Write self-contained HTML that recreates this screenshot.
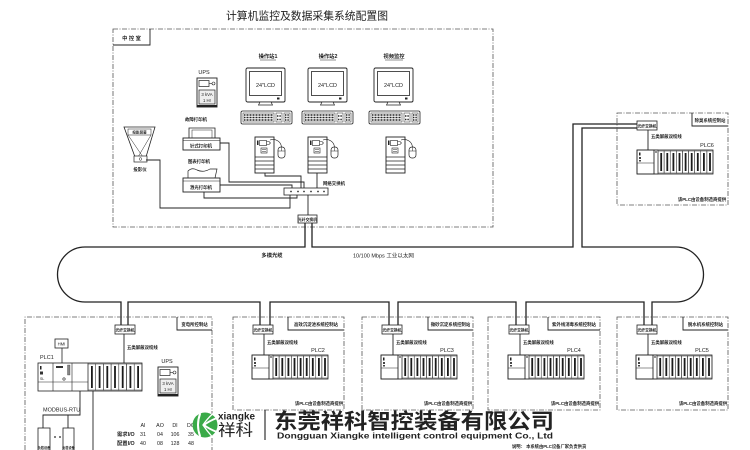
<!DOCTYPE html>
<html><head><meta charset="utf-8">
<style>
html,body{margin:0;padding:0;background:#fff;}
svg{display:block;}
text{font-family:"Liberation Sans","Noto Sans CJK SC",sans-serif;fill:#222;}
.dash{fill:none;stroke:#555;stroke-width:0.8;stroke-dasharray:5,1.5,1,1.5;}
.ln{fill:none;stroke:#222;stroke-width:0.9;}
.ring{fill:none;stroke:#222;stroke-width:1.3;}
.t4{font-size:4.4px;font-weight:bold;}
.t5{font-size:5.3px;font-weight:bold;}
.n5{font-size:5.5px;}
.m{text-anchor:middle;}
</style></head><body>
<svg width="750" height="450" viewBox="0 0 750 450" xmlns="http://www.w3.org/2000/svg">
<defs>
<g id="rack9">
<rect x="0" y="0" width="76" height="24" fill="#fff" stroke="#222" stroke-width="0.8"/>
<rect x="0" y="0" width="17" height="24" fill="none" stroke="#222" stroke-width="0.7"/>
<line x1="0" y1="13" x2="17" y2="13" stroke="#222" stroke-width="0.6"/>
<rect x="2" y="2.5" width="1.5" height="3" fill="#222"/>
<rect x="2" y="7" width="2" height="2" fill="#444"/>
<rect x="2" y="10" width="2" height="1.5" fill="#444"/>
<rect x="17" y="0" width="4" height="24" fill="none" stroke="#222" stroke-width="0.6"/>
<rect x="18" y="1.5" width="2" height="1" fill="#222"/>
<g fill="none" stroke="#333" stroke-width="0.5">
<rect x="21" y="1" width="6.1" height="22"/><rect x="27.11" y="1" width="6.1" height="22"/><rect x="33.22" y="1" width="6.1" height="22"/>
<rect x="39.33" y="1" width="6.1" height="22"/><rect x="45.44" y="1" width="6.1" height="22"/><rect x="51.55" y="1" width="6.1" height="22"/>
<rect x="57.66" y="1" width="6.1" height="22"/><rect x="63.77" y="1" width="6.1" height="22"/><rect x="69.88" y="1" width="6.1" height="22"/>
</g>
<g fill="#1a1a1a">
<rect x="23.3" y="3" width="1.8" height="18"/><rect x="29.4" y="3" width="1.8" height="18"/><rect x="35.5" y="3" width="1.8" height="18"/>
<rect x="41.6" y="3" width="1.8" height="18"/><rect x="47.7" y="3" width="1.8" height="18"/><rect x="53.8" y="3" width="1.8" height="18"/>
<rect x="59.9" y="3" width="1.8" height="18"/><rect x="66.0" y="3" width="1.8" height="18"/><rect x="72.1" y="3" width="1.8" height="18"/>
</g>
</g>
<g id="kbd">
<rect x="0" y="0" width="51" height="13" rx="1.5" fill="#fff" stroke="#222" stroke-width="0.8"/>
<rect x="2" y="2" width="31" height="9" fill="#fff" stroke="#222" stroke-width="0.5"/>
<path d="M3,4 H32 M3,6.5 H32 M3,9 H32" stroke="#222" stroke-width="1.6" stroke-dasharray="1,0.5"/>
<rect x="35" y="2" width="6" height="9" fill="none" stroke="#222" stroke-width="0.5"/>
<path d="M36,5 H40 M36,8.5 H40" stroke="#222" stroke-width="1.4" stroke-dasharray="1,0.6"/>
<rect x="43" y="2" width="6" height="9" fill="none" stroke="#222" stroke-width="0.5"/>
<path d="M44,4 H48 M44,6.5 H48 M44,9 H48" stroke="#222" stroke-width="1.4" stroke-dasharray="1,0.6"/>
</g>
<g id="mon">
<rect x="0" y="0" width="39" height="34" rx="1.5" fill="#fff" stroke="#222" stroke-width="0.9"/>
<rect x="3.5" y="3.5" width="32" height="24" fill="#fff" stroke="#222" stroke-width="0.8"/>
<rect x="31" y="29.5" width="2.5" height="2" fill="#222"/>
<path d="M14,34 L12.5,37 H26.5 L25,34 Z" fill="#fff" stroke="#222" stroke-width="0.7"/>
</g>
<g id="pc">
<rect x="0" y="0" width="19" height="36" fill="#fff" stroke="#222" stroke-width="0.9"/>
<rect x="2" y="3.5" width="1.5" height="4.5" fill="#222"/>
<rect x="4.5" y="3.5" width="7" height="5" fill="none" stroke="#222" stroke-width="0.6"/>
<path d="M11.5,4.5 H14 L15.5,6 L14,7.5 H11.5" fill="none" stroke="#222" stroke-width="0.6"/>
<rect x="6" y="11" width="6" height="5" fill="none" stroke="#222" stroke-width="0.6"/>
<path d="M7,12.5 H11 M7,14.5 H11" stroke="#222" stroke-width="0.6"/>
<path d="M0,20 H19 M0,24 H19 M0,28 H19 M0,32 H19" stroke="#222" stroke-width="0.7"/>
<rect x="23" y="10" width="7" height="11" rx="3" fill="#fff" stroke="#222" stroke-width="0.7"/>
<path d="M23,14 H30 M26.5,10 V14" stroke="#222" stroke-width="0.5"/>
<path d="M15,3 C21,1 26,5 26.5,10" fill="none" stroke="#222" stroke-width="0.6"/>
</g>
<g id="ups">
<rect x="0" y="0" width="20" height="29" fill="#fff" stroke="#222" stroke-width="0.9"/>
<rect x="2" y="2.5" width="10" height="6" fill="none" stroke="#222" stroke-width="0.7"/>
<path d="M12,5.5 H15" stroke="#222" stroke-width="0.6"/>
<circle cx="16.5" cy="5.5" r="1.5" fill="none" stroke="#222" stroke-width="0.6"/>
<rect x="2" y="12" width="16" height="14" fill="#eee" stroke="#222" stroke-width="0.7"/>
<rect x="0" y="27" width="20" height="2" fill="#222"/>
</g>
</defs>

<!-- Title -->
<text x="226" y="19.5" font-family="'Noto Serif CJK SC',serif" font-size="11" textLength="162" lengthAdjust="spacingAndGlyphs" fill="#222">计算机监控及数据采集系统配置图</text>

<!-- Control room -->
<rect x="113" y="29" width="380" height="198" class="dash"/>
<path d="M113,45 H150 V29" class="ln" stroke-width="0.7"/>
<text x="131.5" y="40" class="t5 m">中 控 室</text>

<text x="268" y="58" class="t5 m">操作站1</text>
<line x1="260" y1="60" x2="276" y2="60" stroke="#222" stroke-width="0.5"/>
<text x="328" y="58" class="t5 m">操作站2</text>
<line x1="320" y1="60" x2="336" y2="60" stroke="#222" stroke-width="0.5"/>
<text x="394" y="58" class="t5 m">视频监控</text>
<line x1="385" y1="60" x2="403" y2="60" stroke="#222" stroke-width="0.5"/>

<use href="#mon" x="246" y="68"/>
<text x="265.5" y="87" class="n5 m">24"LCD</text>
<use href="#mon" x="308" y="68"/>
<text x="327.5" y="87" class="n5 m">24"LCD</text>
<use href="#mon" x="374" y="68"/>
<text x="393.5" y="87" class="n5 m">24"LCD</text>

<use href="#kbd" x="241" y="111"/>
<use href="#kbd" x="302" y="111"/>
<use href="#kbd" x="369" y="111"/>

<use href="#pc" x="255" y="137"/>
<use href="#pc" x="308" y="137"/>
<use href="#pc" x="386" y="137"/>

<!-- UPS top -->
<text x="204" y="74" class="n5 m">UPS</text>
<use href="#ups" x="197" y="78"/>
<text x="207" y="96" font-size="4.3" class="m">3 kVA</text>
<text x="207" y="102" font-size="4.3" class="m">1 Hr</text>

<!-- Printers -->
<text x="196" y="121" class="t4 m">故障打印机</text>
<path d="M189,138 V128 H215 V138" fill="none" stroke="#222" stroke-width="0.8"/>
<rect x="192" y="130" width="20" height="8" fill="none" stroke="#222" stroke-width="0.5"/>
<rect x="183" y="138" width="37" height="12" fill="#fff" stroke="#222" stroke-width="0.9"/>
<line x1="183" y1="140.5" x2="220" y2="140.5" stroke="#222" stroke-width="0.5"/>
<text x="201" y="147.5" class="t4 m">针式打印机</text>

<text x="199" y="163" class="t4 m">图表打印机</text>
<path d="M188,178 V171 Q192,167 197,170 Q203,173 210,169 L217,169 L215,178" fill="none" stroke="#222" stroke-width="0.7"/>
<rect x="183" y="178" width="37" height="14" fill="#fff" stroke="#222" stroke-width="0.9"/>
<line x1="183" y1="181" x2="220" y2="181" stroke="#222" stroke-width="0.5"/>
<text x="201" y="189" class="t4 m">激光打印机</text>

<!-- Projector -->
<path d="M124,127 H155 L146,157 H135 Z" fill="none" stroke="#222" stroke-width="0.8"/>
<rect x="128" y="129" width="23" height="6" fill="none" stroke="#222" stroke-width="0.5"/>
<text x="139.5" y="133.6" font-size="3.6" font-weight="bold" class="m">投影屏幕</text>
<path d="M128,135 L143,157 M151,135 L138,157" stroke="#222" stroke-width="0.5"/>
<rect x="134" y="156" width="13" height="6" fill="#fff" stroke="#222" stroke-width="0.7"/>
<circle cx="140.5" cy="159" r="1.3" fill="none" stroke="#222" stroke-width="0.5"/>
<text x="140" y="171" class="t4 m">投影仪</text>

<!-- Connections in control room -->
<path d="M265,173 V176 H301 V188" class="ln"/>
<path d="M317,173 V188" class="ln"/>
<path d="M220,143 H229 V182 H304 V188" class="ln"/>
<path d="M220,185 H292 V188" class="ln"/>
<path d="M204,192 V198 H297 V195" class="ln"/>
<path d="M146,160 H160 V208 H290 V195" class="ln"/>

<rect x="284" y="188" width="44" height="7" fill="#fff" stroke="#222" stroke-width="0.8"/>
<g fill="#333"><circle cx="291" cy="191.5" r="0.9"/><circle cx="298" cy="191.5" r="0.9"/><circle cx="304" cy="191.5" r="0.9"/><circle cx="311" cy="191.5" r="0.9"/><circle cx="318" cy="191.5" r="0.9"/><circle cx="324" cy="191.5" r="0.9"/></g>
<text x="334" y="185" class="t4 m">网络交换机</text>
<path d="M308,195 V215" class="ln"/>
<rect x="298" y="215" width="19" height="8" fill="#fff" stroke="#222" stroke-width="0.8"/>
<text x="307.5" y="220.8" font-size="3.8" font-weight="bold" class="m">光纤交换机</text>

<!-- Ring -->
<path class="ring" d="M305,223 V247 H85 A27.5,27.5 0 0 0 85,302 H121 V325"/>
<path class="ring" d="M128,325 V302 H260 V325"/>
<path class="ring" d="M270,325 V302 H389 V325"/>
<path class="ring" d="M398,325 V302 H516 V325"/>
<path class="ring" d="M526,325 V302 H644 V325"/>
<path class="ring" d="M652,325 V302 H676 A27.5,27.5 0 0 0 676,247 H582 V128 H637"/>
<path class="ring" d="M637,124 H573 V247 H312 V223"/>
<text x="272" y="257" class="t5 m">多模光缆</text>
<text x="353" y="257.5" class="n5">10/100 Mbps  工业以太网</text>

<!-- PLC6 station -->
<g transform="translate(617,113)">
<rect x="0" y="0" width="111" height="92" class="dash"/>
<path d="M75,0 V13 H111" class="ln" stroke-width="0.7"/>
<text x="93" y="9" class="t4 m">除臭系统控制站</text>
<rect x="20" y="8" width="20" height="9" fill="#fff" stroke="#222" stroke-width="0.8"/>
<text x="30" y="14.3" font-size="3.8" font-weight="bold" class="m">光纤交换机</text>
<line x1="31" y1="17" x2="31" y2="37" stroke="#222" stroke-width="0.9"/>
<text x="34" y="25" class="t4">五类屏蔽双绞线</text>
<use href="#rack9" x="20" y="37"/>
<text x="90" y="34" class="n5 m">PLC6</text>
<text x="85" y="88" class="t4 m">该PLC由设备制造商提供</text>
</g>

<!-- PLC2 -->
<g transform="translate(233,317)">
<rect x="0" y="0" width="111" height="93" class="dash"/>
<path d="M55,0 V13 H111" class="ln" stroke-width="0.7"/>
<text x="83" y="9" class="t4 m">高效沉淀池系统控制站</text>
<rect x="20" y="8" width="20" height="9" fill="#fff" stroke="#222" stroke-width="0.8"/>
<text x="30" y="14.3" font-size="3.8" font-weight="bold" class="m">光纤交换机</text>
<line x1="31" y1="17" x2="31" y2="38" stroke="#222" stroke-width="0.9"/>
<text x="34" y="27" class="t4">五类屏蔽双绞线</text>
<use href="#rack9" x="19" y="38"/>
<text x="85" y="35" class="n5 m">PLC2</text>
<text x="86" y="88" class="t4 m">该PLC由设备制造商提供</text>
</g>

<!-- PLC3 -->
<g transform="translate(362,317)">
<rect x="0" y="0" width="111" height="93" class="dash"/>
<path d="M66,0 V13 H111" class="ln" stroke-width="0.7"/>
<text x="88.5" y="9" class="t4 m">微砂沉淀系统控制站</text>
<rect x="20" y="8" width="20" height="9" fill="#fff" stroke="#222" stroke-width="0.8"/>
<text x="30" y="14.3" font-size="3.8" font-weight="bold" class="m">光纤交换机</text>
<line x1="31" y1="17" x2="31" y2="38" stroke="#222" stroke-width="0.9"/>
<text x="34" y="27" class="t4">五类屏蔽双绞线</text>
<use href="#rack9" x="19" y="38"/>
<text x="85" y="35" class="n5 m">PLC3</text>
<text x="86" y="88" class="t4 m">该PLC由设备制造商提供</text>
</g>

<!-- PLC4 -->
<g transform="translate(488,317)">
<rect x="0" y="0" width="112" height="93" class="dash"/>
<path d="M60,0 V13 H112" class="ln" stroke-width="0.7"/>
<text x="86" y="9" class="t4 m">紫外线消毒系统控制站</text>
<rect x="21" y="8" width="20" height="9" fill="#fff" stroke="#222" stroke-width="0.8"/>
<text x="31" y="14.3" font-size="3.8" font-weight="bold" class="m">光纤交换机</text>
<line x1="32" y1="17" x2="32" y2="38" stroke="#222" stroke-width="0.9"/>
<text x="35" y="27" class="t4">五类屏蔽双绞线</text>
<use href="#rack9" x="20" y="38"/>
<text x="86" y="35" class="n5 m">PLC4</text>
<text x="87" y="88" class="t4 m">该PLC由设备制造商提供</text>
</g>

<!-- PLC5 -->
<g transform="translate(617,317)">
<rect x="0" y="0" width="111" height="93" class="dash"/>
<path d="M66,0 V13 H111" class="ln" stroke-width="0.7"/>
<text x="88.5" y="9" class="t4 m">脱水机系统控制站</text>
<rect x="20" y="8" width="20" height="9" fill="#fff" stroke="#222" stroke-width="0.8"/>
<text x="30" y="14.3" font-size="3.8" font-weight="bold" class="m">光纤交换机</text>
<line x1="31" y1="17" x2="31" y2="38" stroke="#222" stroke-width="0.9"/>
<text x="34" y="27" class="t4">五类屏蔽双绞线</text>
<use href="#rack9" x="19" y="38"/>
<text x="85" y="35" class="n5 m">PLC5</text>
<text x="86" y="88" class="t4 m">该PLC由设备制造商提供</text>
</g>

<!-- Station 1: 变电所 -->
<path d="M25,450 V317 H212 V450" class="dash"/>
<path d="M177,317 V330 H212" class="ln" stroke-width="0.7"/>
<text x="194.5" y="326" class="t4 m">变电所控制站</text>
<rect x="115" y="325" width="20" height="9" fill="#fff" stroke="#222" stroke-width="0.8"/>
<text x="125" y="331.3" font-size="3.8" font-weight="bold" class="m">光纤交换机</text>
<line x1="124" y1="334" x2="124" y2="363" stroke="#222" stroke-width="0.9"/>
<text x="127" y="349" class="t4">五类屏蔽双绞线</text>

<rect x="55" y="339" width="13" height="9" fill="#fff" stroke="#222" stroke-width="0.8"/>
<text x="61.5" y="345.5" font-size="4.2" class="m">HMI</text>
<line x1="62" y1="348" x2="62" y2="363" stroke="#222" stroke-width="0.8"/>
<text x="40" y="359" class="n5">PLC1</text>

<rect x="38" y="363" width="104" height="28" fill="#fff" stroke="#222" stroke-width="0.8"/>
<path d="M53,363 V391 M72,363 V391 M88,363 V391 M38,382 H88" stroke="#222" stroke-width="0.6"/>
<rect x="40" y="366" width="1.5" height="3.5" fill="#222"/>
<rect x="40" y="371.5" width="3" height="3" fill="#333"/>
<text x="40" y="380" font-size="3.5">SL</text>
<rect x="56" y="366" width="7" height="2" fill="#333"/>
<rect x="67.5" y="365" width="2.5" height="10" fill="#888" stroke="#222" stroke-width="0.3"/>
<circle cx="64" cy="379" r="1.2" fill="none" stroke="#222" stroke-width="0.6"/>
<g fill="none" stroke="#333" stroke-width="0.5">
<rect x="88" y="364" width="7.7" height="26"/><rect x="95.7" y="364" width="7.7" height="26"/><rect x="103.4" y="364" width="7.7" height="26"/>
<rect x="111.1" y="364" width="7.7" height="26"/><rect x="118.8" y="364" width="7.7" height="26"/><rect x="126.5" y="364" width="7.7" height="26"/>
<rect x="134.2" y="364" width="7.7" height="26"/>
</g>
<g fill="#1a1a1a">
<rect x="91" y="366" width="1.8" height="22"/><rect x="98.7" y="366" width="1.8" height="22"/><rect x="106.4" y="366" width="1.8" height="22"/>
<rect x="114.1" y="366" width="1.8" height="22"/><rect x="121.8" y="366" width="1.8" height="22"/><rect x="129.5" y="366" width="1.8" height="22"/>
<rect x="137.2" y="366" width="1.8" height="22"/>
</g>

<path d="M80,391 V415 H43 V428 M68,415 V428" class="ln"/>
<path d="M93,391 V450" class="ln"/>
<text x="43" y="411.5" class="n5">MODBUS-RTU</text>
<rect x="38" y="428" width="12" height="24" fill="#fff" stroke="#222" stroke-width="0.8"/>
<rect x="63" y="428" width="11" height="24" fill="#fff" stroke="#222" stroke-width="0.8"/>
<text x="44" y="449" font-size="3.2" font-weight="bold" class="m">负载设备</text>
<text x="68.5" y="449" font-size="3.2" font-weight="bold" class="m">负载设备</text>
<circle cx="55" cy="437" r="0.9" fill="#222"/><circle cx="60" cy="437" r="0.9" fill="#222"/>

<text x="167" y="363" class="n5 m">UPS</text>
<use href="#ups" x="158" y="367"/>
<text x="168" y="385" font-size="4.3" class="m">3 kVA</text>
<text x="168" y="391" font-size="4.3" class="m">1 Hr</text>

<!-- IO table -->
<g font-size="5.3" fill="#333">
<text x="143" y="427" class="m">AI</text><text x="160" y="427" class="m">AO</text><text x="175" y="427" class="m">DI</text><text x="191" y="427" class="m">DO</text>
<text x="117" y="436" font-weight="bold">需求I/O</text>
<text x="143" y="436" class="m">31</text><text x="160" y="436" class="m">04</text><text x="175" y="436" class="m">106</text><text x="191" y="436" class="m">35</text>
<text x="117" y="445" font-weight="bold">配置I/O</text>
<text x="143" y="445" class="m">40</text><text x="160" y="445" class="m">08</text><text x="175" y="445" class="m">128</text><text x="191" y="445" class="m">48</text>
</g>

<!-- Logo -->
<circle cx="205" cy="425" r="12.5" fill="#3aaa48"/>
<g fill="none" stroke="#fff" stroke-linecap="round">
<path d="M200,414 Q196,425 200,436" stroke-width="2"/>
<path d="M217,418 Q209,421 204,425 Q209,429 217,432" stroke-width="1.8"/>
<path d="M213,413.5 Q207,419 203,425" stroke-width="1.3"/>
<path d="M203,425 Q207,431 212,436.5" stroke-width="1.3"/>
</g>
<text x="218" y="419.5" font-family="'Liberation Sans',sans-serif" font-size="10" font-weight="bold" fill="#111" textLength="37" lengthAdjust="spacingAndGlyphs">xiangke</text>
<text x="218" y="435.5" font-family="'Noto Sans CJK SC',sans-serif" font-size="16" fill="#4a7a52" textLength="35" lengthAdjust="spacingAndGlyphs">祥科</text>
<line x1="265" y1="410" x2="265" y2="440" stroke="#333" stroke-width="1.2"/>
<text x="274" y="428.5" font-family="'Noto Serif CJK SC',serif" font-size="21" font-weight="bold" fill="#2a2a2a" textLength="280" lengthAdjust="spacingAndGlyphs">东莞祥科智控装备有限公司</text>
<text x="277" y="438.5" font-family="'Liberation Mono',monospace" font-size="8.5" font-weight="bold" fill="#333" textLength="276" lengthAdjust="spacingAndGlyphs">Dongguan Xiangke intelligent control equipment Co., Ltd</text>
<text x="512" y="448" font-size="4.3" font-weight="bold" fill="#222">说明：  本系统由PLC设备厂家负责供货</text>
</svg>
</body></html>
